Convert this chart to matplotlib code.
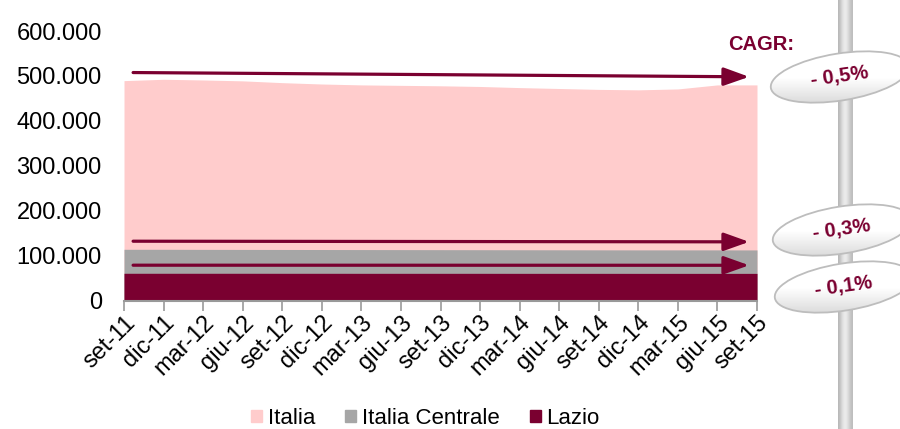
import matplotlib.pyplot as plt
import numpy as np
from matplotlib.patches import Ellipse, Patch
from matplotlib.ticker import FuncFormatter

plt.rcParams['font.family'] = ['Liberation Sans', 'DejaVu Sans']

# quarterly observations
months = ['set-11', 'dic-11', 'mar-12', 'giu-12', 'set-12', 'dic-12', 'mar-13', 'giu-13',
          'set-13', 'dic-13', 'mar-14', 'giu-14', 'set-14', 'dic-14', 'mar-15', 'giu-15', 'set-15']
italia = [489500, 492500, 491000, 489000, 485000, 482000, 480000, 479000,
          478000, 476500, 474000, 472000, 470000, 469000, 471000, 480000, 480000]
centrale = [114000, 114000, 113800, 113700, 113600, 113500, 113400, 113300,
            113200, 113100, 113000, 112900, 112800, 112700, 112700, 112700, 112600]
lazio = [60600, 60600, 60600, 60600, 60550, 60550, 60500, 60500,
         60500, 60500, 60450, 60450, 60450, 60400, 60400, 60400, 60400]
cagr = ['- 0,5%', '- 0,3%', '- 0,1%']

pink = '#ffcccc'
grey = '#a6a6a6'
wine = '#7a0030'

fig = plt.figure(figsize=(9, 4.29), dpi=100)
ax = fig.add_axes([124 / 900, 1 - 300.5 / 429, 633 / 900, 269.5 / 429])

x = np.arange(len(months))
ax.fill_between(x, 0, italia, color=pink, lw=0)
ax.fill_between(x, 0, centrale, color=grey, lw=0)
ax.fill_between(x, 0, lazio, color=wine, lw=0)

# trend arrows just above each series
for s in (italia, centrale, lazio):
    ax.annotate('', xy=(15.8, s[-1] + 18000), xytext=(0.23, s[0] + 18000),
                arrowprops=dict(arrowstyle='-|>,head_length=0.7,head_width=0.25',
                                color=wine, lw=2.3, mutation_scale=22,
                                shrinkA=0, shrinkB=0))

ax.set_xlim(0, len(months) - 1)
ax.set_ylim(0, 600000)
ax.set_yticks(range(0, 600001, 100000))
ax.yaxis.set_major_formatter(FuncFormatter(lambda v, p: f'{int(v):,}'.replace(',', '.')))
ax.set_xticks(x)
ax.set_xticklabels(months, rotation=45, ha='right', rotation_mode='anchor')
for side in ('top', 'right', 'left'):
    ax.spines[side].set_visible(False)
ax.spines['bottom'].set_color('#999999')
ax.spines['bottom'].set_linewidth(1.5)
ax.tick_params(axis='y', length=0, labelsize=17, pad=16)
ax.tick_params(axis='x', length=7, width=1.2, color='#999999', labelsize=17, pad=1)

ax.legend(handles=[Patch(color=pink, label='Italia'),
                   Patch(color=grey, label='Italia Centrale'),
                   Patch(color=wine, label='Lazio')],
          loc='center', bbox_to_anchor=(0.4728, 0.025), bbox_transform=fig.transFigure,
          ncol=3, frameon=False, fontsize=16, handlelength=0.5, handleheight=0.5,
          handletextpad=0.25, columnspacing=1.35)

# side panel in pixel coordinates
ov = fig.add_axes([0, 0, 1, 1], zorder=5)
ov.set_xlim(0, 900)
ov.set_ylim(429, 0)
ov.axis('off')
ov.patch.set_alpha(0)

bar = np.array([[0.72, 0.82, 0.9, 0.93, 0.88, 0.8, 0.74]])
ov.imshow(bar, cmap='gray', vmin=0, vmax=1, extent=(838, 853, 429, 0),
          aspect='auto', interpolation='bicubic')

grad = np.concatenate([np.ones(25), np.linspace(1.0, 0.84, 25)]).reshape(-1, 1)
for (cx, cy), label in zip([(840, 77), (842, 230), (844, 287)], cagr):
    e = Ellipse((cx, cy), 140, 47, angle=-9, facecolor='none',
                edgecolor='#bdbdbd', lw=1.3, zorder=7)
    ov.add_patch(e)
    im = ov.imshow(grad, cmap='gray', vmin=0, vmax=1,
                   extent=(cx - 75, cx + 75, cy + 30, cy - 30),
                   aspect='auto', zorder=6)
    im.set_clip_path(e)
    ov.text(cx, cy, label, color=wine, fontsize=14.5, fontweight='bold',
            ha='center', va='center', rotation=8, zorder=8)

ov.text(761, 45, 'CAGR:', color=wine, fontsize=14.5, fontweight='bold',
        ha='center', va='center')
ov.set_xlim(0, 900)
ov.set_ylim(429, 0)

fig.savefig('out.png', dpi=100)
